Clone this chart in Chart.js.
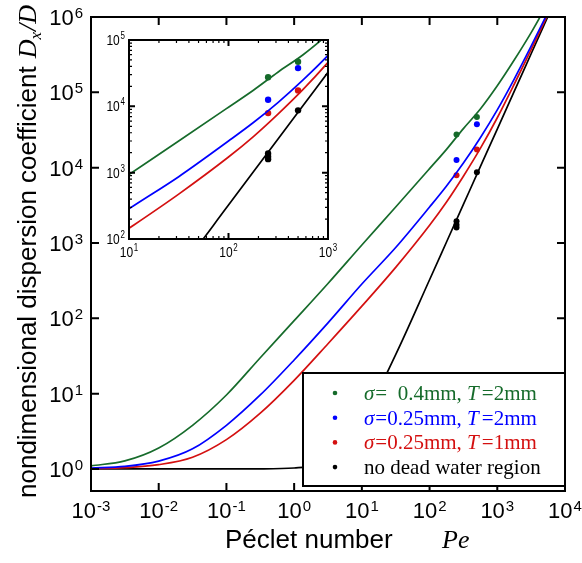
<!DOCTYPE html>
<html>
<head>
<meta charset="utf-8">
<script src="https://cdn.jsdelivr.net/npm/chart.js@4.4.1/dist/chart.umd.min.js"></script>
<style>
body { margin: 0; background: #fff; }
#wrap { position: relative; width: 582px; height: 563px; }
#main { position: absolute; left: 0; top: 0; }
#inset { position: absolute; left: 90px; top: 25px; }
</style>
</head>
<body>
<div id="wrap">
  <canvas id="main" width="582" height="563"></canvas>
  <canvas id="inset" width="250" height="250"></canvas>
</div>
<script>
const peGrid = [0.001, 0.00316, 0.01, 0.0316, 0.1, 0.316, 1, 3.16, 10, 31.6, 100, 178, 316, 562, 1000, 1778, 3162, 5623];
const greenCurve = [1.1, 1.28, 1.9, 3.8, 9.6, 30, 93, 290, 940, 3000, 9700, 17500, 33000, 60000, 122000, 268000, 620000, 1550000];
const blueCurve = [1.03, 1.08, 1.27, 1.85, 3.8, 9.6, 28, 87, 285, 870, 3000, 5700, 11500, 25000, 58500, 150000, 410000, 1170000];
const redCurve = [1.01, 1.04, 1.14, 1.43, 2.45, 5.5, 15, 46, 145, 475, 1720, 3500, 7700, 18000, 46000, 128000, 370000, 1100000];
const blackCurve = [1, 1, 1, 1, 1, 1.003, 1.03, 1.33, 4.3, 33, 325, 1030, 3250, 10300, 32500, 103000, 325000, 1030000];

// measured points
const dotPe = [250, 500];
const greenDots = [27500, 47000];
const blueDots = [12600, 37700];
const redDots = [7900, 17400];
const blackDotPe = [250, 250, 250, 500];
const blackDots = [1950, 1750, 1600, 8700];

// tick exponents
const mainXExp = [-3, -2, -1, 0, 1, 2, 3, 4];
const mainYExp = [0, 1, 2, 3, 4, 5, 6];
const insetXExp = [1, 2, 3];
const insetYExp = [2, 3, 4, 5];

const legendRows = [
    { color: '#166b2b', sigma: '=  0.4mm, ', T: '=2mm' },
    { color: '#0000ff', sigma: '=0.25mm, ', T: '=2mm' },
    { color: '#d41010', sigma: '=0.25mm, ', T: '=1mm' },
    { color: '#000000', plain: 'no dead water region' }
];

const GREEN = '#166b2b', BLUE = '#0000ff', RED = '#d41010', BLACK = '#000000';
const SANS = "'Liberation Sans', Arial, sans-serif";
const SERIF = "'Liberation Serif', 'Times New Roman', serif";

function pairs(xs, ys) {
    return xs.map((x, i) => ({ x: x, y: ys[i] }));
}

function buildDatasets(dotR) {
    const line = (data, color) => ({
        data: pairs(peGrid, data), showLine: true, borderColor: color, borderWidth: 1.7,
        pointRadius: 0, cubicInterpolationMode: 'monotone', fill: false
    });
    const dots = (xs, ys, color) => ({
        data: pairs(xs, ys), showLine: false, pointRadius: dotR, pointBorderWidth: 0,
        backgroundColor: color, borderColor: color
    });
    return [
        line(greenCurve, GREEN), line(blueCurve, BLUE), line(redCurve, RED), line(blackCurve, BLACK),
        dots(dotPe, greenDots, GREEN), dots(dotPe, blueDots, BLUE), dots(dotPe, redDots, RED),
        dots(blackDotPe, blackDots, BLACK)
    ];
}

// draws 10 with a raised exponent
function drawPow(ctx, exp, x, baseY, align, baseSize, supSize, raise, squeeze) {
    ctx.save();
    ctx.translate(x, baseY);
    ctx.scale(squeeze, 1);
    ctx.textBaseline = 'alphabetic';
    ctx.textAlign = 'left';
    ctx.font = baseSize + 'px ' + SANS;
    const wb = ctx.measureText('10').width;
    ctx.font = supSize + 'px ' + SANS;
    const ws = ctx.measureText(String(exp)).width;
    const total = wb + ws + 1;
    let x0 = align === 'center' ? -total / 2 : (align === 'right' ? -total : 0);
    ctx.fillStyle = '#000';
    ctx.font = baseSize + 'px ' + SANS;
    ctx.fillText('10', x0, 0);
    ctx.font = supSize + 'px ' + SANS;
    ctx.fillText(String(exp), x0 + wb + 1, -raise);
    ctx.restore();
}

function drawFrame(ctx, area, xScale, yScale, majLen, minLen, xExps, yExps, minors) {
    ctx.save();
    ctx.strokeStyle = '#000';
    ctx.lineWidth = 2;
    ctx.strokeRect(area.left, area.top, area.right - area.left, area.bottom - area.top);
    ctx.beginPath();
    const tickX = (px, len) => {
        ctx.moveTo(px, area.bottom); ctx.lineTo(px, area.bottom - len);
        ctx.moveTo(px, area.top); ctx.lineTo(px, area.top + len);
    };
    const tickY = (py, len) => {
        ctx.moveTo(area.left, py); ctx.lineTo(area.left + len, py);
        ctx.moveTo(area.right, py); ctx.lineTo(area.right - len, py);
    };
    xExps.forEach(e => tickX(xScale.getPixelForValue(Math.pow(10, e)), majLen));
    yExps.forEach(e => tickY(yScale.getPixelForValue(Math.pow(10, e)), majLen));
    ctx.stroke();
    if (minors) {
        ctx.lineWidth = 1.2;
        ctx.beginPath();
        xExps.slice(0, -1).forEach(e => {
            for (let m = 2; m <= 9; m++) tickX(xScale.getPixelForValue(m * Math.pow(10, e)), minLen);
        });
        yExps.slice(0, -1).forEach(e => {
            for (let m = 2; m <= 9; m++) tickY(yScale.getPixelForValue(m * Math.pow(10, e)), minLen);
        });
        ctx.stroke();
    }
    ctx.restore();
}

const mainDecor = {
    id: 'mainDecor',
    afterDraw(chart) {
        const ctx = chart.ctx, area = chart.chartArea;
        const xs = chart.scales.x, ys = chart.scales.y;
        drawFrame(ctx, area, xs, ys, 8, 0, mainXExp, mainYExp, false);

        mainXExp.forEach(e => drawPow(ctx, e, xs.getPixelForValue(Math.pow(10, e)), area.bottom + 27, 'center', 22, 15, 7, 1));
        mainYExp.forEach(e => drawPow(ctx, e, area.left - 8, ys.getPixelForValue(Math.pow(10, e)) + 8, 'right', 22, 15, 7, 1));

        // x title
        ctx.save();
        ctx.fillStyle = '#000';
        ctx.textBaseline = 'alphabetic';
        ctx.font = '26px ' + SANS;
        ctx.fillText('Péclet number', 225, 548);
        ctx.font = 'italic 26px ' + SERIF;
        ctx.fillText('Pe', 442, 548);
        ctx.restore();

        // y title
        ctx.save();
        ctx.translate(36, 498);
        ctx.rotate(-Math.PI / 2);
        ctx.fillStyle = '#000';
        ctx.textBaseline = 'alphabetic';
        ctx.font = '26px ' + SANS;
        const label = 'nondimensional dispersion coefficient';
        ctx.fillText(label, 0, 0);
        let p = ctx.measureText(label).width + 8;
        ctx.font = 'italic 26px ' + SERIF;
        ctx.fillText('D', p, 0);
        p += ctx.measureText('D').width;
        ctx.font = 'italic 17px ' + SERIF;
        ctx.fillText('x', p, 5);
        p += ctx.measureText('x').width + 1;
        ctx.font = 'italic 26px ' + SERIF;
        ctx.fillText('/D', p, 0);
        ctx.restore();

        // legend box
        ctx.save();
        ctx.fillStyle = '#fff';
        ctx.fillRect(303, 373, area.right - 303, 113);
        ctx.strokeStyle = '#000';
        ctx.lineWidth = 2;
        ctx.strokeRect(303, 373, area.right - 303, 113);
        ctx.textBaseline = 'alphabetic';
        legendRows.forEach((row, i) => {
            const base = 400 + i * 24.7;
            ctx.fillStyle = row.color;
            ctx.beginPath();
            ctx.arc(335, base - 7, 2.3, 0, Math.PI * 2);
            ctx.fill();
            let x = 364;
            if (row.plain) {
                ctx.font = '21px ' + SERIF;
                ctx.fillText(row.plain, x, base);
                return;
            }
            ctx.font = 'italic 21px ' + SERIF;
            ctx.fillText('σ', x, base);
            x += ctx.measureText('σ').width + 1;
            ctx.font = '21px ' + SERIF;
            ctx.fillText(row.sigma, x, base);
            x += ctx.measureText(row.sigma).width;
            ctx.font = 'italic 21px ' + SERIF;
            ctx.fillText('T', x, base);
            x += ctx.measureText('T').width + 3;
            ctx.font = '21px ' + SERIF;
            ctx.fillText(row.T, x, base);
        });
        ctx.restore();
    }
};

const insetDecor = {
    id: 'insetDecor',
    afterDraw(chart) {
        const ctx = chart.ctx, area = chart.chartArea;
        const xs = chart.scales.x, ys = chart.scales.y;
        drawFrame(ctx, area, xs, ys, 6, 3, insetXExp, insetYExp, true);
        insetXExp.forEach(e => drawPow(ctx, e, xs.getPixelForValue(Math.pow(10, e)), area.bottom + 18, 'center', 15, 10, 6, 0.8));
        insetYExp.forEach(e => drawPow(ctx, e, area.left - 4, ys.getPixelForValue(Math.pow(10, e)) + 5, 'right', 15, 10, 6, 0.8));
    }
};

function axes(xMin, xMax, yMin, yMax, leftW, bottomH) {
    const common = {
        type: 'logarithmic', display: true,
        grid: { display: false, drawTicks: false },
        border: { display: false },
        ticks: { display: false }
    };
    return {
        x: Object.assign({}, common, { min: xMin, max: xMax, afterFit: s => { s.height = bottomH; } }),
        y: Object.assign({}, common, { min: yMin, max: yMax, afterFit: s => { s.width = leftW; } })
    };
}

new Chart(document.getElementById('main'), {
    type: 'scatter',
    data: { datasets: buildDatasets(3) },
    options: {
        responsive: false,
        animation: false,
        devicePixelRatio: 1,
        layout: { padding: { top: 17, right: 17, left: 0, bottom: 0 } },
        plugins: { legend: { display: false }, tooltip: { enabled: false } },
        scales: axes(1e-3, 1e4, 0.51, 1e6, 91, 72)
    },
    plugins: [mainDecor]
});

new Chart(document.getElementById('inset'), {
    type: 'scatter',
    data: { datasets: buildDatasets(3.2) },
    options: {
        responsive: false,
        animation: false,
        devicePixelRatio: 1,
        layout: { padding: { top: 15, right: 12, left: 0, bottom: 0 } },
        plugins: { legend: { display: false }, tooltip: { enabled: false } },
        scales: axes(10, 1000, 100, 1e5, 39, 36)
    },
    plugins: [insetDecor]
});
</script>
</body>
</html>
